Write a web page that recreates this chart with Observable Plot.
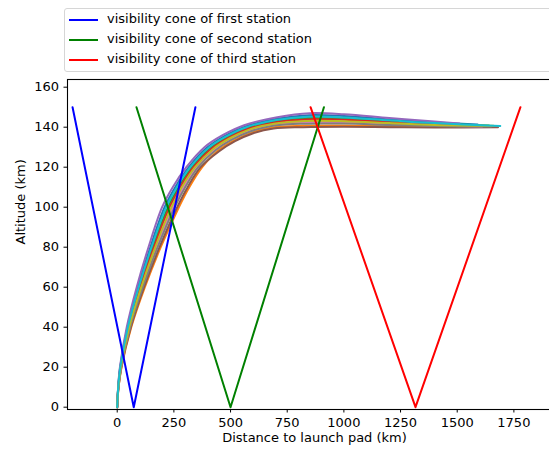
<!DOCTYPE html>
<html>
<head>
<meta charset="utf-8">
<script src="https://cdn.jsdelivr.net/npm/d3@7"></script>
<script src="https://cdn.jsdelivr.net/npm/@observablehq/plot@0.6"></script>
<style>
  html, body { margin: 0; padding: 0; background: #fff; }
  body { width: 549px; height: 454px; overflow: hidden; font-family: "DejaVu Sans", sans-serif; }
  #wrap { position: relative; width: 549px; height: 454px; overflow: hidden; }
  #chart { position: absolute; left: 0; top: 0; width: 562px; }
  #chart svg { max-width: none !important; }
  #legend { position: absolute; left: 64px; top: 8px; width: 520px; height: 62px; border: 1px solid #d6d6d6; border-radius: 3px; background: #fff; }
  .item { position: absolute; left: 0; height: 20px; width: 500px; }
  .swatch { position: absolute; left: 4px; width: 29px; height: 2px; }
  .label { position: absolute; left: 42px; font-size: 13px; line-height: 16px; color: #000; white-space: nowrap; }
</style>
</head>
<body>
<div id="wrap">
  <div id="chart"></div>
  <div id="legend"></div>
</div>
<script>
// ---- Data ----
const stationNames = ["first", "second", "third"];
const stationX = [73, 500, 1316];
const coneLeftX = [-197, 85, 853];
const coneRightX = [345, 912, 1779];
const coneTopAltitude = 150;
const coneColors = ["blue", "green", "red"];

const xTicks = [0, 250, 500, 750, 1000, 1250, 1500, 1750];
const yTicks = [0, 20, 40, 60, 80, 100, 120, 140, 160];

// trajectories [distance km, altitude km]
const trajBlue   = [[0,0],[4.3,10],[13,20],[45,40],[91,60],[146,80],[209,100],[256,110],[316,120],[395,129.7],[473,135.6],[566,140.4],[704,144.2],[846,146],[1000,145.6],[1200,143.9],[1400,142.4],[1590,141.3]];
const trajOrange = [[0,0],[6,10],[19,20],[62,40],[122,60],[192,80],[272,100],[318,110],[375,120],[443.5,128.2],[514.5,133.3],[596,137.4],[691.6,139.96],[823,140.7],[1000,140.83],[1200,140.46],[1400,140.1],[1600,140.1]];
const trajGreen  = [[0,0],[4.7,10],[14.5,20],[49,40],[98.6,60],[157,80],[224,100],[270.5,110],[329.5,120],[408,129.3],[484,134.95],[574,139.6],[700,143],[839.5,144.55],[1000,144.3],[1200,143],[1400,141.75],[1640,140.8]];
const trajRed    = [[0,0],[4.9,10],[15.2,20],[51,40],[102,60],[162,80],[231,100],[278,110],[336.5,120],[414,129.1],[490,134.65],[578,139.2],[699,142.5],[836.5,143.85],[1000,143.7],[1200,142.5],[1400,141.45],[1620,140.6]];
const trajPurple = [[0,0],[4,10],[12,20],[42,40],[86,60],[138,80],[198,100],[245,110],[305,120],[385,130],[465,136],[560,141],[706,145],[850,147],[1000,146.5],[1200,144.6],[1400,142.8],[1510,141.8]];
const trajBrown  = [[0,0],[5.8,10],[18.3,20],[60,40],[118.4,60],[186.6,80],[264.6,100],[310.7,110],[368,120],[450,128],[520,133],[600,137],[690,139.4],[820,140],[1000,140.2],[1200,140],[1400,139.8],[1680,140]];
const trajPink   = [[0,0],[5.3,10],[16.6,20],[55,40],[109.4,60],[173,80],[246,100],[292.5,110],[350.5,120],[427,128.7],[501,134.05],[586,138.4],[695.6,141.4],[830.5,142.45],[1000,142.4],[1200,141.6],[1400,140.85],[1610,140.4]];
const trajGray   = [[0,0],[5.5,10],[17.25,20],[57,40],[113,60],[178.5,80],[253.5,100],[300,110],[357.5,120],[434,128.5],[506,133.75],[590,138],[694,140.8],[827.5,141.75],[1000,141.8],[1200,141.15],[1400,140.55],[1650,140.3]];
const trajOlive  = [[0,0],[5.1,10],[15.9,20],[53,40],[106,60],[168,80],[239,100],[285,110],[343.5,120],[421,128.9],[495,134.35],[582,138.8],[697,141.9],[833.5,143.15],[1000,143],[1200,142.1],[1400,141.15],[1660,140.7]];
const trajCyan   = [[0,0],[4.5,10],[13.8,20],[47,40],[95,60],[151.5,80],[216.5,100],[263,110],[322.5,120],[401,129.5],[479,135.25],[570,140],[702,143.6],[842.5,145.25],[1000,144.9],[1200,143.45],[1400,142.05],[1690,140.6]];

const trajectories = [trajBlue, trajOrange, trajGreen, trajRed, trajPurple, trajBrown, trajPink, trajGray, trajOlive, trajCyan];
const trajColors = ["#1f77b4", "#ff7f0e", "#2ca02c", "#d62728", "#9467bd", "#8c564b", "#e377c2", "#7f7f7f", "#bcbd22", "#17becf"];

const xLabel = "Distance to launch pad (km)";
const yLabel = "Altitude (km)";

// ---- Marks ----
const marks = [];
trajectories.forEach((t, i) => {
  marks.push(Plot.line(t, {x: d => d[0], y: d => d[1], stroke: trajColors[i], strokeWidth: 2, curve: "catmull-rom"}));
});
stationNames.forEach((s, i) => {
  const cone = [
    {x: coneLeftX[i], y: coneTopAltitude},
    {x: stationX[i], y: 0},
    {x: coneRightX[i], y: coneTopAltitude}
  ];
  marks.push(Plot.line(cone, {x: "x", y: "y", stroke: coneColors[i], strokeWidth: 2}));
});
marks.push(Plot.frame({stroke: "#000", strokeWidth: 1.1}));
marks.push(Plot.axisX({ticks: xTicks, tickSize: 3.5, tickPadding: 5, label: null, fontSize: 13, tickFormat: d => String(d)}));
marks.push(Plot.axisY({ticks: yTicks, tickSize: 3.5, tickPadding: 5, label: null, fontSize: 13, tickFormat: d => String(d)}));
marks.push(Plot.text([xLabel], {frameAnchor: "bottom", dy: 32, text: d => d, fontSize: 13, fill: "#000"}));
marks.push(Plot.text([yLabel], {frameAnchor: "left", dx: -47, rotate: -90, text: d => d, fontSize: 13, fill: "#000"}));

const chart = Plot.plot({
  width: 562,
  height: 454,
  marginLeft: 67,
  marginRight: 1,
  marginTop: 79,
  marginBottom: 45,
  x: {domain: [-219.3, 1960.1]},
  y: {domain: [-1.15, 163.85]},
  style: {fontFamily: "DejaVu Sans, sans-serif", fontSize: "13px", color: "#000", background: "#fff", overflow: "visible", maxWidth: "none"},
  marks
});
chart.style.maxWidth = "none";
chart.style.width = "562px";
chart.style.height = "454px";
document.getElementById("chart").appendChild(chart);

// ---- Legend ----
const legend = document.getElementById("legend");
stationNames.forEach((s, i) => {
  const item = document.createElement("div");
  item.className = "item";
  item.style.top = (i * 20) + "px";
  const sw = document.createElement("div");
  sw.className = "swatch";
  sw.style.background = coneColors[i];
  sw.style.top = "9.5px";
  const lb = document.createElement("div");
  lb.className = "label";
  lb.style.top = "2px";
  lb.textContent = "visibility cone of " + s + " station";
  item.appendChild(sw);
  item.appendChild(lb);
  legend.appendChild(item);
});
</script>
</body>
</html>
